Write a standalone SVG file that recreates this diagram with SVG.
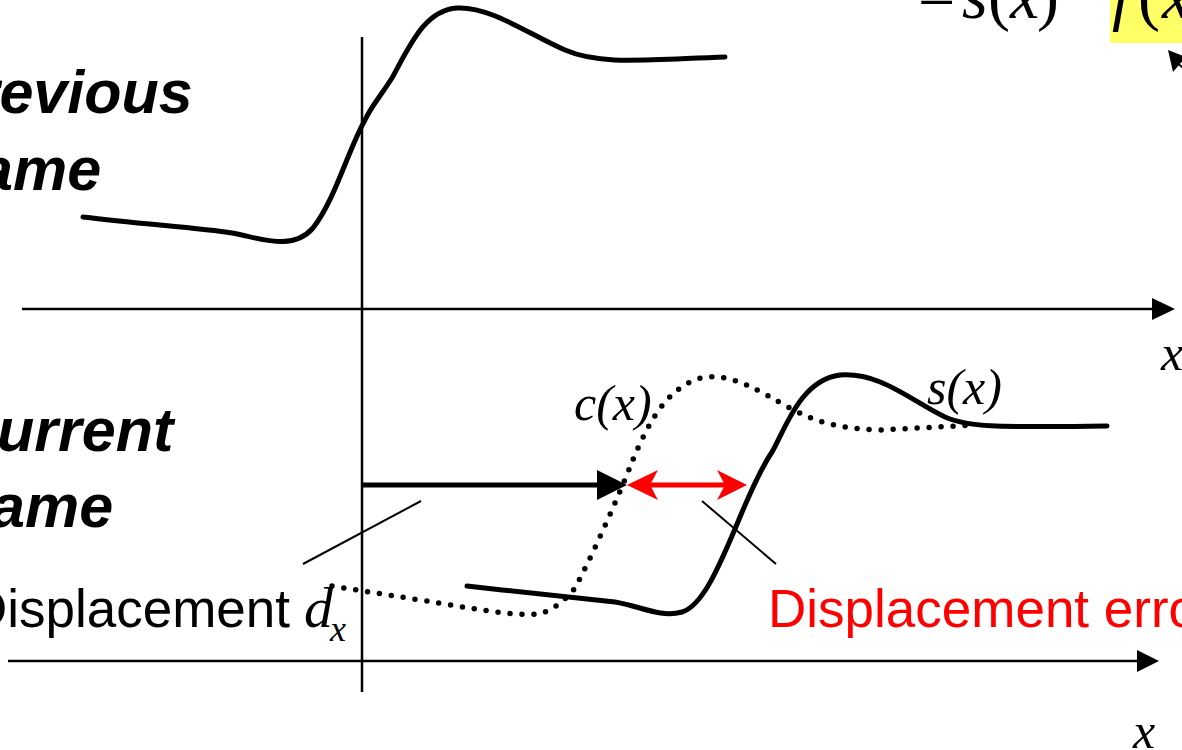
<svg xmlns="http://www.w3.org/2000/svg" width="1182" height="750" viewBox="0 0 1182 750">
<style>
.curve{fill:none;stroke:#000;stroke-width:5;stroke-linecap:round;stroke-linejoin:round}
.dots{fill:none;stroke:#000;stroke-width:5.5;stroke-linecap:round;stroke-dasharray:0 12}
.axis{stroke:#000;stroke-width:2.5;fill:none}
.thin{stroke:#000;stroke-width:2;fill:none}
.title{font-family:"Liberation Sans",Arial,sans-serif;font-weight:bold;font-style:italic;font-size:61px;fill:#000}
.lbl{font-family:"Liberation Sans",Arial,sans-serif;font-size:53px}
.math{font-family:"Liberation Serif","Times New Roman",serif;font-style:italic;font-size:50px;fill:#000}
</style>
<rect width="1182" height="750" fill="#fff"/>
<g id="equation">
<rect x="1110" y="0" width="72" height="43" fill="#FFFF66"/>
<text font-family="'Liberation Serif','Times New Roman',serif" font-size="66" y="18"><tspan x="918">=</tspan><tspan x="962" font-style="italic">s</tspan><tspan x="988">(</tspan><tspan x="1010" font-style="italic">x</tspan><tspan x="1037">)</tspan></text>
<text font-family="'Liberation Serif','Times New Roman',serif" font-size="66" y="18"><tspan x="1112" font-style="italic">f</tspan><tspan x="1138">(</tspan><tspan x="1162" font-style="italic">x</tspan></text>
<line x1="1176" y1="62" x2="1200" y2="82" class="thin"/>
<polygon points="1168,50 1186,57 1173,72" fill="#000"/>
</g>
<g id="labels">
<text class="title" x="-65" y="113">Previous</text>
<text class="title" x="-65" y="190">frame</text>
<text class="title" x="-47" y="451">Current</text>
<text class="title" x="-53" y="527">frame</text>
<text class="lbl" x="290" y="627" text-anchor="end" fill="#000">Displacement</text>
<text class="math" x="304" y="627" style="font-size:58px">d</text>
<text class="math" x="330" y="641" style="font-size:36px">x</text>
<text class="lbl" x="768" y="627" fill="#FF0000">Displacement error</text>
<text class="math" x="574" y="420">c(x)</text>
<text class="math" x="927" y="404">s(x)</text>
<text class="math" x="1161" y="370">x</text>
<text class="math" x="1133" y="748">x</text>
</g>
<g id="axes">
<line class="axis" x1="362" y1="37" x2="362" y2="692"/>
<line class="axis" x1="22" y1="309" x2="1155" y2="309"/>
<polygon points="1152,298 1175,309 1152,320" fill="#000"/>
<line class="axis" x1="8" y1="661" x2="1140" y2="661"/>
<polygon points="1137,650 1159,661 1137,672" fill="#000"/>
</g>
<g id="previous-curve">
<path class="curve" d="M83,217 C140,224 200,228 232,233 C260,238 292,252 313,228 C335,200 348,150 365,120 C372,105 378,100 392,78 C410,45 425,10 457,8 C490,6 530,35 565,50 C600,65 640,60 725,57"/>
</g>
<g id="c-curve">
<path class="dots" d="M332,586 L420,600 C470,608 510,616 537,614 C552,612 565,600 575,588 C590,560 615,505 630,467 C645,430 665,385 705,377 C735,374 760,392 790,408 C815,422 840,429 880,430 L975,425"/>
</g>
<g id="s-curve">
<path class="curve" d="M467,586 C520,592 580,598 615,602 C640,606 660,618 682,612 C702,606 718,570 740,517 C750,493 760,470 772,452 C785,430 800,380 840,375 C880,372 910,400 945,417 C970,428 1000,427 1107,426"/>
</g>
<g id="connectors">
<line x1="362" y1="485" x2="600" y2="485" stroke="#000" stroke-width="5"/>
<polygon points="597,470 627,485 597,500" fill="#000"/>
<line x1="648" y1="485" x2="725" y2="485" stroke="#FF0000" stroke-width="5"/>
<polygon points="627,485 658,470 650,485 658,500" fill="#FF0000"/>
<polygon points="747,485 717,470 725,485 717,500" fill="#FF0000"/>
<line class="thin" x1="303" y1="564" x2="421" y2="501"/>
<line class="thin" x1="702" y1="501" x2="776" y2="564"/>
</g>
</svg>
